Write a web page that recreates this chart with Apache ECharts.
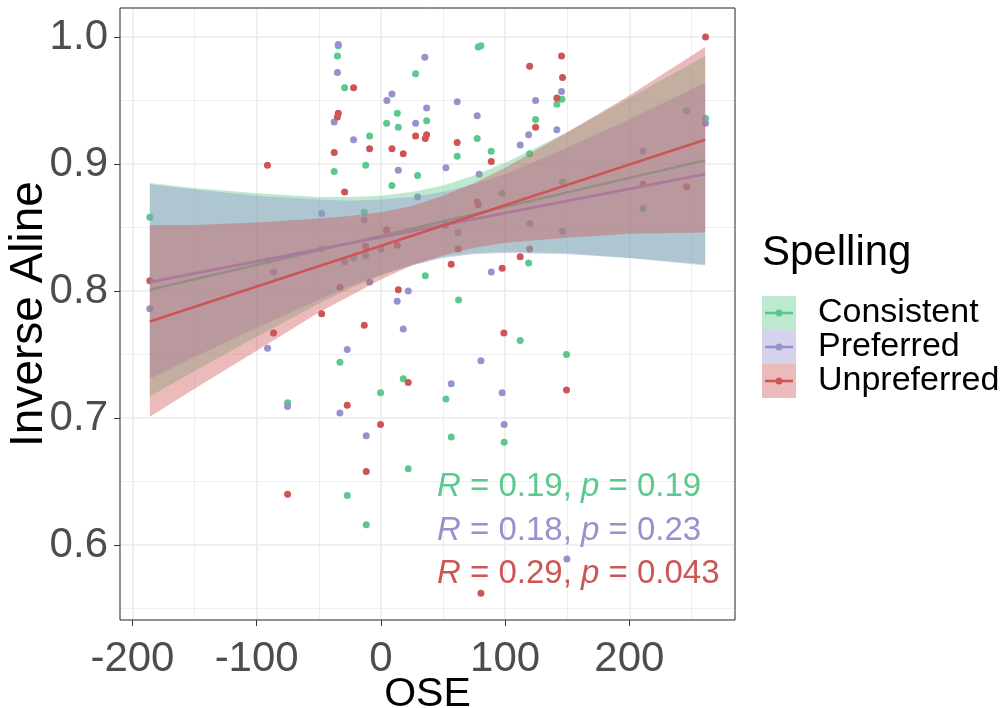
<!DOCTYPE html>
<html>
<head>
<meta charset="utf-8">
<script src="https://cdn.jsdelivr.net/npm/echarts@6/dist/echarts.min.js"></script>
<style>
html, body { margin: 0; padding: 0; background: #fff; }
#chart { width: 1000px; height: 708px; }
</style>
</head>
<body>
<div id="chart"></div>
<script>
// scatter points, OSE (x) and Inverse Aline (y), one pair of arrays per spelling
const consX = [-186, -91.2, -75.1, -47.7, -37.6, -34.3, -35.0, -33.0, -29.2, -27.1, -22.0, -13.4, -12.3, -11.8, -9.1, -0.3, 4.6, 8.9, 13.2, 14.0, 18.0, 22.0, 27.9, 29.5, 35.7, 36.8, 52.3, 56.6, 61.4, 62.5, 77.5, 78.3, 80.5, 88.8, 97.6, 99.2, 112.1, 118.9, 119.7, 124.5, 141.6, 145.7, 146.2, 149.4, 210.9, 246.0, 261.3];
const consY = [0.858, 0.824, 0.712, 0.833, 0.894, 0.993, 0.985, 0.744, 0.960, 0.639, 0.826, 0.862, 0.899, 0.616, 0.922, 0.720, 0.932, 0.883, 0.940, 0.929, 0.731, 0.660, 0.971, 0.891, 0.812, 0.934, 0.715, 0.685, 0.906, 0.793, 0.920, 0.992, 0.993, 0.910, 0.877, 0.681, 0.761, 0.822, 0.908, 0.935, 0.947, 0.951, 0.886, 0.750, 0.865, 0.942, 0.936];

const prefX = [-186, -91.2, -86.4, -75.1, -47.7, -37.6, -34.3, -35.0, -33.0, -29.2, -27.1, -22.0, -13.4, -12.3, -11.8, -9.1, 0.0, 4.8, 8.9, 13.1, 14.0, 18.0, 22.0, 27.9, 29.5, 35.4, 36.8, 52.3, 56.6, 61.4, 62.2, 77.5, 79.1, 80.5, 88.8, 97.6, 99.2, 112.1, 118.9, 119.7, 124.5, 141.6, 145.4, 146.2, 149.7, 210.9, 261.3];
const prefY = [0.786, 0.755, 0.815, 0.709, 0.861, 0.933, 0.994, 0.972, 0.704, 0.823, 0.754, 0.919, 0.856, 0.828, 0.686, 0.807, 0.833, 0.950, 0.955, 0.792, 0.895, 0.770, 0.800, 0.932, 0.874, 0.984, 0.944, 0.897, 0.727, 0.949, 0.846, 0.938, 0.892, 0.745, 0.815, 0.720, 0.695, 0.915, 0.923, 0.853, 0.950, 0.927, 0.957, 0.847, 0.589, 0.910, 0.932];

const unprX = [-186, -91.3, -86.4, -75.1, -47.7, -37.6, -34.3, -35.0, -33.0, -29.2, -27.1, -22.0, -13.4, -12.3, -11.8, -9.1, -0.3, 4.6, 8.9, 13.1, 14.0, 18.0, 22.0, 27.9, 35.7, 36.8, 52.0, 56.6, 61.4, 62.2, 77.5, 78.3, 80.5, 88.8, 97.6, 99.0, 112.1, 119.7, 119.7, 124.5, 141.6, 145.4, 146.2, 149.4, 210.9, 246.0, 261.3];
const unprY = [0.808, 0.899, 0.767, 0.640, 0.782, 0.909, 0.940, 0.937, 0.803, 0.878, 0.710, 0.960, 0.773, 0.835, 0.658, 0.912, 0.695, 0.848, 0.912, 0.836, 0.801, 0.908, 0.728, 0.922, 0.920, 0.923, 0.852, 0.821, 0.917, 0.833, 0.870, 0.868, 0.562, 0.902, 0.818, 0.767, 0.827, 0.977, 0.833, 0.929, 0.952, 0.985, 0.968, 0.722, 0.884, 0.882, 1.000];

// fitted lines (ends)
const fitX = [-186, 261];
const consFit = [0.801, 0.903];
const prefFit = [0.807, 0.892];
const unprFit = [0.776, 0.919];

// confidence bands read at these OSE values
const bandX = [-186, -150, -100, -50, -25, 0, 25, 50, 75, 100, 150, 200, 261];
const consLo = [0.717, 0.737, 0.764, 0.790, 0.802, 0.812, 0.821, 0.827, 0.830, 0.831, 0.830, 0.826, 0.821];
const consHi = [0.885, 0.881, 0.877, 0.874, 0.874, 0.875, 0.878, 0.883, 0.891, 0.901, 0.925, 0.952, 0.985];
const prefLo = [0.731, 0.748, 0.771, 0.793, 0.804, 0.813, 0.820, 0.826, 0.829, 0.830, 0.829, 0.826, 0.820];
const prefHi = [0.884, 0.880, 0.875, 0.872, 0.871, 0.872, 0.874, 0.878, 0.884, 0.892, 0.913, 0.935, 0.964];
const unprLo = [0.701, 0.723, 0.753, 0.783, 0.796, 0.809, 0.820, 0.828, 0.834, 0.838, 0.842, 0.845, 0.846];
const unprHi = [0.852, 0.852, 0.854, 0.857, 0.859, 0.862, 0.867, 0.875, 0.885, 0.897, 0.925, 0.954, 0.992];

const groups = ['Consistent', 'Preferred', 'Unpreferred'];
const stats = ['0.19, {i|p} = 0.19', '0.18, {i|p} = 0.23', '0.29, {i|p} = 0.043'];

const FONT = '"Liberation Sans", Arial, sans-serif';
const colors = ['#5BC98D', '#9692CD', '#CC5656'];
const fills = ['rgba(91,201,141,0.4)', 'rgba(150,146,205,0.4)', 'rgba(204,86,86,0.4)'];

const zip = (xs, ys) => xs.map((x, i) => [x, ys[i]]);

function band(name, lo, hi, fill, z) {
    return {
        name: name, type: 'custom', z: z, silent: true,
        data: bandX.map((x, i) => [x, lo[i], hi[i]]),
        encode: { x: 0, y: [1, 2] },
        renderItem: function (params, api) {
            if (params.dataIndex !== 0) return null;
            const top = bandX.map((x, i) => api.coord([x, hi[i]]));
            const bot = bandX.map((x, i) => api.coord([x, lo[i]])).reverse();
            return { type: 'polygon', shape: { points: top.concat(bot) }, style: { fill: fill } };
        }
    };
}

function fit(name, ys, color, z) {
    return {
        name: name, type: 'line', z: z, silent: true, showSymbol: false,
        data: zip(fitX, ys),
        lineStyle: { color: color, width: 2.6 }
    };
}

function dots(name, xs, ys, color) {
    return {
        name: name, type: 'scatter', z: 1, silent: true,
        symbolSize: 7, data: zip(xs, ys),
        itemStyle: { color: color, opacity: 1 }
    };
}

const chart = echarts.init(document.getElementById('chart'));

const option = {
    animation: false,
    backgroundColor: '#fff',
    grid: {
        left: 120, right: 265, top: 8, bottom: 88, z: 10,
        containLabel: false, outerBoundsMode: 'none',
        show: true, borderColor: '#333', borderWidth: 1, backgroundColor: 'transparent'
    },
    xAxis: {
        type: 'value', min: -210, max: 285, splitNumber: 5,
        name: 'OSE', nameLocation: 'middle', nameGap: 54, nameMoveOverlap: false,
        nameTextStyle: { fontFamily: FONT, fontSize: 41, color: '#000' },
        axisLine: { show: false, onZero: false },
        axisTick: { show: true, length: 6, lineStyle: { color: '#333' } },
        axisLabel: { fontFamily: FONT, fontSize: 42, color: '#4d4d4d', margin: 18, showMinLabel: false, showMaxLabel: false },
        splitLine: { show: true, lineStyle: { color: '#ebebeb', width: 1.6 } },
        minorTick: { show: false, splitNumber: 2 },
        minorSplitLine: { show: true, lineStyle: { color: '#ebebeb', width: 0.8 } }
    },
    yAxis: {
        type: 'value', min: 0.541, max: 1.0228, splitNumber: 5,
        name: 'Inverse Aline', nameLocation: 'middle', nameGap: 68, nameRotate: 90, nameMoveOverlap: false,
        nameTextStyle: { fontFamily: FONT, fontSize: 46, color: '#000' },
        axisLine: { show: false, onZero: false },
        axisTick: { show: true, length: 6, lineStyle: { color: '#333' } },
        axisLabel: { fontFamily: FONT, fontSize: 42, color: '#4d4d4d', margin: 12, showMinLabel: false, showMaxLabel: false,
            formatter: v => v.toFixed(1) },
        splitLine: { show: true, lineStyle: { color: '#ebebeb', width: 1.6 } },
        minorTick: { show: false, splitNumber: 2 },
        minorSplitLine: { show: true, lineStyle: { color: '#ebebeb', width: 0.8 } }
    },
    legend: {
        left: 762, top: 296, orient: 'vertical', padding: 0,
        itemWidth: 34, itemHeight: 34, itemGap: 0, selectedMode: false,
        textStyle: { fontFamily: FONT, fontSize: 34, lineHeight: 34, color: '#000', padding: [0, 0, 0, 17] },
        data: groups.map((g, i) => ({ name: g, icon: 'rect', itemStyle: { color: fills[i], borderWidth: 0 } }))
    },
    graphic: [
        { type: 'text', x: 762, y: 253, style: { text: 'Spelling', font: '42px ' + FONT, fill: '#000', verticalAlign: 'middle' } }
    ].concat(groups.map((g, i) => ({
        type: 'group', z: 100,
        children: [
            { type: 'line', shape: { x1: 765, y1: 313 + i * 34, x2: 793, y2: 313 + i * 34 }, style: { stroke: colors[i], lineWidth: 2.6 } },
            { type: 'circle', shape: { cx: 779, cy: 313 + i * 34, r: 3.5 }, style: { fill: colors[i] } }
        ]
    }))).concat(stats.map((s, i) => ({
        type: 'text', z: 100, x: 437, y: 487 + i * 43.5,
        style: {
            text: '{i|R} = ' + s, fill: colors[i], font: '33px ' + FONT, verticalAlign: 'middle',
            rich: { i: { fontStyle: 'italic', fontSize: 33, fontFamily: FONT, fill: colors[i] } }
        }
    }))),
    series: [
        dots('Consistent', consX, consY, colors[0]),
        dots('Preferred', prefX, prefY, colors[1]),
        dots('Unpreferred', unprX, unprY, colors[2]),
        band('Consistent band', consLo, consHi, fills[0], 2),
        fit('Consistent fit', consFit, colors[0], 3),
        band('Preferred band', prefLo, prefHi, fills[1], 4),
        fit('Preferred fit', prefFit, colors[1], 5),
        band('Unpreferred band', unprLo, unprHi, fills[2], 6),
        fit('Unpreferred fit', unprFit, colors[2], 7)
    ]
};

chart.setOption(option);
</script>
</body>
</html>
